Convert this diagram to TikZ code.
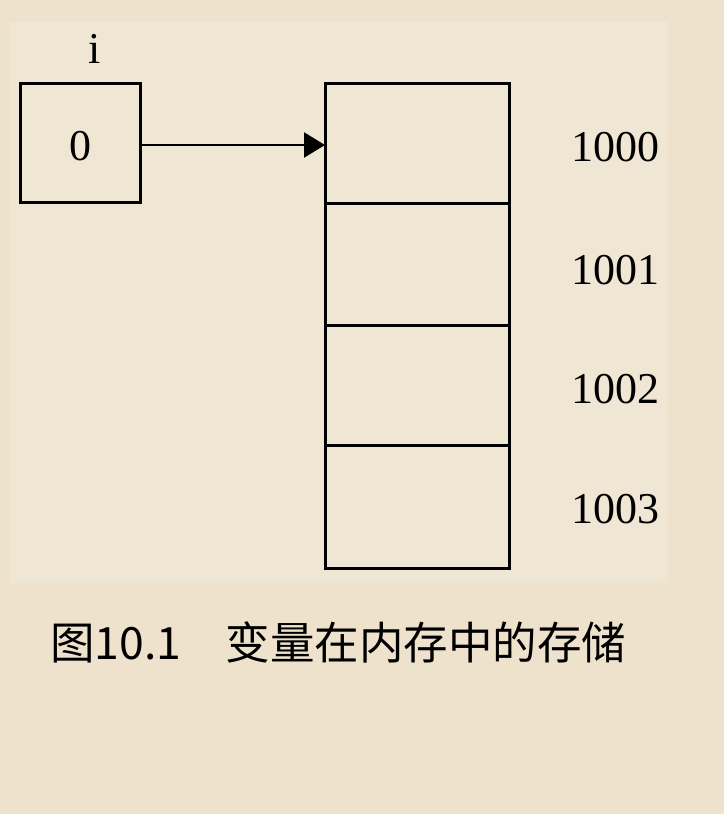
\documentclass[tikz,border=0pt]{standalone}
\usepackage{fontspec}
\setmainfont{Liberation Serif}
\newfontfamily\cjk{Noto Sans CJK SC}
\usetikzlibrary{arrows.meta}
\definecolor{outerbg}{HTML}{EEE2CC}
\definecolor{innerbg}{HTML}{F0E6D4}
\tikzset{
  cellbox/.style={draw=black, line width=3pt, line join=miter},
  numtext/.style={font=\fontsize{44}{50}\selectfont, inner sep=0pt},
  link/.style={line width=2.4pt, -{Triangle[length=21pt,width=25pt]}}
}
\begin{document}
\begin{tikzpicture}[x=1pt,y=-1pt]
\fill[outerbg] (0,0) rectangle (724,814);
\useasboundingbox (0,0) rectangle (724,814);
\fill[innerbg] (10,22) rectangle (668,583);
% variable i
\draw[cellbox] (20,83) rectangle (140,202);
\node[numtext] (zero) at (80,146) {0};
\node[numtext] (ilab) at (95,49) {i};
\coordinate (ibox) at (140,145);
% memory cells
\draw[cellbox] (325,83) rectangle (509,203);
\draw[cellbox] (325,203) rectangle (509,325);
\draw[cellbox] (325,325) rectangle (509,445);
\draw[cellbox] (325,445) rectangle (509,568);
\coordinate (mem) at (325,145);
\draw[link] (ibox) -- (mem);
% addresses
\node[numtext] (a0) at (615,147) {1000};
\node[numtext] (a1) at (615,270) {1001};
\node[numtext] (a2) at (615,389) {1002};
\node[numtext] (a3) at (615,509) {1003};
% caption
\node[font=\cjk\fontsize{44.5}{50}\selectfont, inner sep=0pt, anchor=west] (cap) at (50,642) {图10.1　变量在内存中的存储};
\end{tikzpicture}
\end{document}
